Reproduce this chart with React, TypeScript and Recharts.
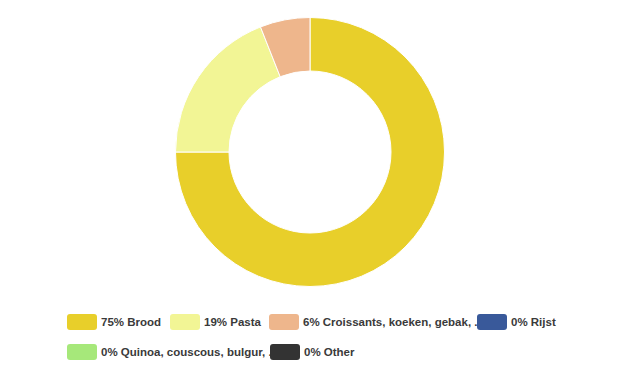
import React from "react";
import { PieChart, Pie, Cell } from "recharts";

const categories = [
  "Brood",
  "Pasta",
  "Croissants, koeken, gebak, ...",
  "Rijst",
  "Quinoa, couscous, bulgur, ...",
  "Other",
];
const values = [75, 19, 6, 0, 0, 0];
const colors = ["#E8CF2A", "#F2F595", "#EEB68C", "#39599A", "#A6E87A", "#333333"];

// legend layout (x of swatch, row index)
const legendPos = [
  { x: 67, row: 0 },
  { x: 170, row: 0 },
  { x: 269, row: 0 },
  { x: 477, row: 0 },
  { x: 67, row: 1 },
  { x: 270, row: 1 },
];

const data = categories.map((name, i) => ({ name, value: values[i], color: colors[i] }));
const pieData = data.filter((d) => d.value > 0);

export default function App() {
  return (
    <div style={{ position: "absolute", left: 0, top: 0, width: 620, height: 382, background: "#fff" }}>
      <PieChart width={620} height={382} margin={{ top: 0, right: 0, bottom: 0, left: 0 }}>
        <Pie
          data={pieData}
          dataKey="value"
          nameKey="name"
          cx={310}
          cy={152}
          innerRadius={81}
          outerRadius={134.5}
          startAngle={90}
          endAngle={-270}
          stroke="#ffffff"
          strokeWidth={1}
          isAnimationActive={false}
        >
          {pieData.map((d) => (
            <Cell key={d.name} fill={d.color} />
          ))}
        </Pie>
      </PieChart>
      {data.map((d, i) => {
        const p = legendPos[i];
        const top = 314 + p.row * 30;
        return (
          <div
            key={d.name}
            style={{
              position: "absolute",
              left: p.x,
              top,
              height: 16,
              display: "flex",
              alignItems: "center",
              whiteSpace: "nowrap",
              fontFamily: "'Liberation Sans', Arial, sans-serif",
              fontWeight: "bold",
              fontSize: 11.5,
              color: "#3a3a3a",
            }}
          >
            <div
              style={{
                width: 30,
                height: 16,
                background: d.color,
                borderRadius: 3,
                marginRight: 4,
                flex: "none",
              }}
            />
            <span>{`${d.value}% ${d.name}`}</span>
          </div>
        );
      })}
    </div>
  );
}
